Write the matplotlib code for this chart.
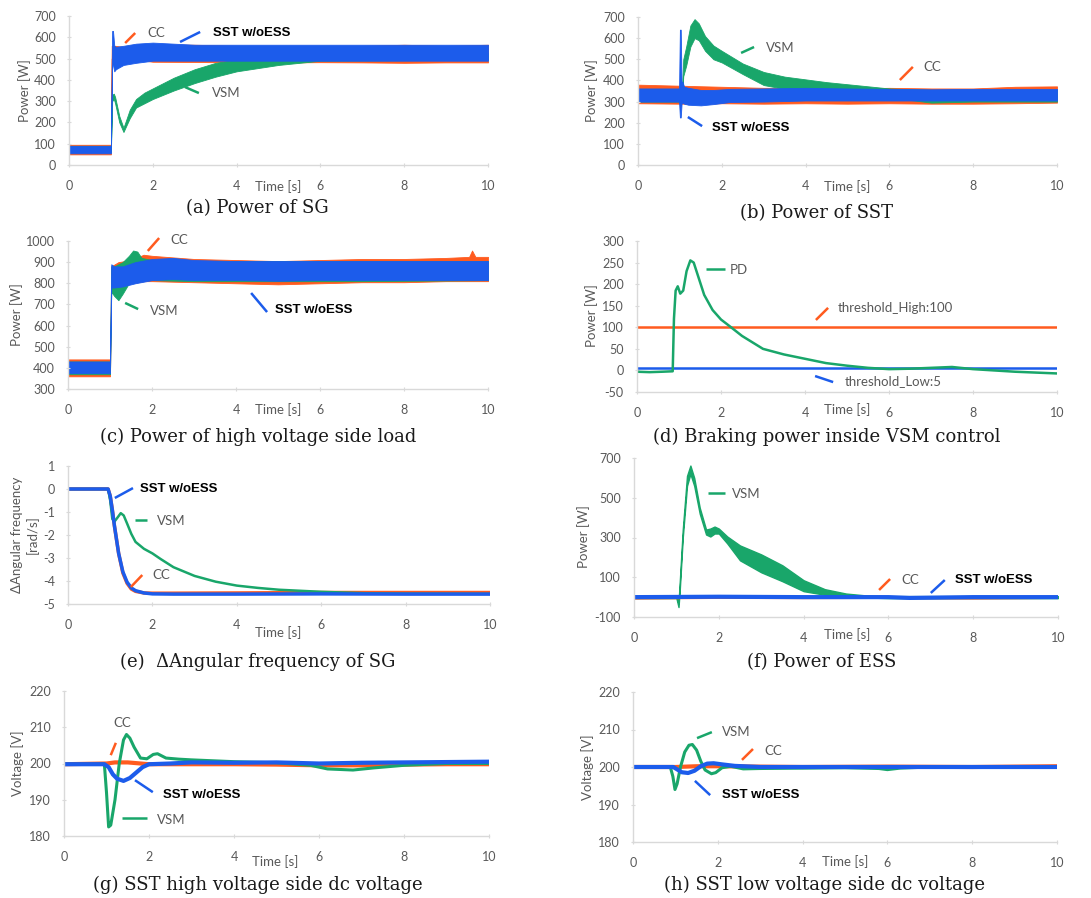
import matplotlib
matplotlib.use("Agg")
import matplotlib.pyplot as plt

plt.rcParams['axes.unicode_minus'] = False

W, H = 1091, 898
ORANGE = '#FF5B1F'
BLUE = '#1C5CEB'
GREEN = '#19A66A'
GRAY = '#595959'
AXC = '#d9d9d9'
TICKF = 'Lato'

# ---------------- data ----------------
xticks = [0, 2, 4, 6, 8, 10]

# (a) Power of SG  (bands: time, low, high)
a_cc_t = [0, 1.0, 1.02, 1.1, 1.3, 1.6, 2, 3, 4, 5, 6, 7, 8, 9, 10]
a_cc_lo = [50, 50, 500, 530, 520, 495, 485, 484, 482, 482, 483, 482, 480, 482, 482]
a_cc_hi = [95, 95, 560, 560, 555, 565, 565, 565, 560, 560, 560, 560, 565, 560, 565]
a_vsm_t = [0, 1.0, 1.03, 1.07, 1.1, 1.2, 1.3, 1.45, 1.6, 1.8, 2.0, 2.5, 3.0, 3.5, 4.0, 4.5, 5.0, 5.5, 6.0, 10]
a_vsm_lo = [60, 60, 300, 310, 290, 200, 155, 220, 270, 290, 310, 350, 385, 415, 440, 455, 470, 480, 490, 495]
a_vsm_hi = [90, 90, 330, 335, 320, 230, 175, 260, 310, 340, 360, 410, 450, 480, 495, 505, 510, 515, 520, 525]
a_sst_t = [0, 1.0, 1.03, 1.05, 1.08, 1.12, 1.3, 1.6, 2, 3, 4, 6, 8, 10]
a_sst_lo = [55, 55, 470, 470, 440, 450, 470, 480, 490, 490, 490, 490, 490, 490]
a_sst_hi = [90, 90, 630, 630, 560, 555, 560, 570, 575, 565, 565, 565, 565, 565]

# (b) Power of SST
b_cc_t = [0, 1, 2, 3, 4, 5, 6, 7, 8, 9, 10]
b_cc_lo = [292, 290, 292, 290, 292, 290, 292, 290, 290, 292, 295]
b_cc_hi = [380, 375, 370, 365, 365, 362, 365, 362, 362, 370, 372]
b_vsm_t = [0, 1.05, 1.08, 1.15, 1.25, 1.35, 1.45, 1.6, 1.8, 2.0, 2.5, 3, 3.5, 4, 4.5, 5, 5.5, 6, 7, 8, 10]
b_vsm_lo = [300, 300, 420, 470, 560, 600, 590, 540, 500, 485, 430, 378, 360, 352, 345, 340, 335, 320, 295, 300, 300]
b_vsm_hi = [360, 360, 500, 560, 660, 690, 670, 610, 565, 540, 480, 440, 418, 405, 392, 382, 372, 362, 355, 355, 355]
b_sst_t = [0, 0.98, 1.0, 1.02, 1.04, 1.06, 1.1, 1.2, 1.5, 1.8, 2.2, 3, 4, 5, 6, 7, 8, 10]
b_sst_lo = [300, 300, 225, 225, 290, 295, 290, 285, 282, 288, 298, 300, 305, 305, 305, 305, 305, 305]
b_sst_hi = [362, 362, 640, 640, 380, 395, 370, 365, 355, 355, 360, 362, 365, 362, 360, 358, 360, 360]

# (c) Power of high voltage side load
c_cc_t = [0, 1.0, 1.03, 1.2, 1.5, 1.8, 2.0, 3, 4, 5, 6, 7, 8, 9, 9.55, 9.62, 9.7, 10]
c_cc_lo = [360, 360, 780, 790, 800, 810, 810, 805, 800, 795, 800, 805, 805, 810, 810, 810, 810, 810]
c_cc_hi = [440, 440, 880, 900, 910, 935, 930, 915, 910, 905, 910, 915, 915, 920, 925, 955, 925, 925]
c_vsm_t = [0, 1.0, 1.03, 1.1, 1.2, 1.3, 1.45, 1.55, 1.65, 1.75, 2.0, 3, 5, 7, 10]
c_vsm_lo = [370, 370, 760, 740, 720, 750, 800, 820, 830, 830, 815, 810, 810, 810, 815]
c_vsm_hi = [430, 430, 880, 880, 890, 900, 930, 955, 950, 920, 910, 905, 905, 905, 905]
c_sst_t = [0, 1.0, 1.03, 1.1, 1.3, 1.6, 2.0, 2.5, 3, 4, 5, 6, 8, 10]
c_sst_lo = [375, 375, 780, 780, 785, 800, 815, 820, 815, 815, 812, 815, 815, 815]
c_sst_hi = [430, 430, 890, 880, 880, 900, 915, 920, 910, 905, 905, 905, 905, 905]

# (d) Braking power inside VSM control
d_pd_t = [0, 0.3, 0.6, 0.85, 0.88, 0.92, 0.97, 1.03, 1.1, 1.18, 1.27, 1.35, 1.45, 1.6, 1.8, 2.0, 2.2,
          2.5, 3.0, 3.5, 4.0, 4.5, 5.0, 5.5, 6.0, 6.5, 7.0, 7.5, 8.0, 8.5, 9.0, 9.5, 10]
d_pd = [-3, -4, -3, -2, 120, 185, 195, 178, 185, 230, 255, 250, 220, 175, 140, 118, 103,
        80, 50, 37, 27, 17, 11, 6, 3, 4, 6, 8, 3, 0, -3, -5, -7]
d_thr_t = [0, 10]
d_thr_high = [100, 100]
d_thr_low = [5, 5]

# (e) Delta angular frequency of SG
e_sst_t = [0, 0.95, 1.0, 1.05, 1.1, 1.2, 1.3, 1.4, 1.5, 1.6, 1.8, 2.0, 2.5, 4, 6, 8, 10]
e_sst = [0, 0, -0.3, -0.9, -1.6, -2.8, -3.6, -4.05, -4.3, -4.42, -4.52, -4.56, -4.57, -4.57, -4.56, -4.57, -4.57]
e_cc = [0, 0, -0.3, -0.9, -1.6, -2.8, -3.65, -4.1, -4.35, -4.45, -4.52, -4.53, -4.53, -4.52, -4.5, -4.5, -4.5]
e_vsm_t = [0, 0.95, 1.0, 1.05, 1.1, 1.17, 1.25, 1.32, 1.4, 1.5, 1.6, 1.8, 2.0, 2.2, 2.5, 3.0, 3.5,
           4.0, 4.5, 5, 6, 7, 8, 10]
e_vsm = [0, 0, -0.5, -1.3, -1.42, -1.25, -1.05, -1.15, -1.5, -1.95, -2.3, -2.6, -2.8, -3.05, -3.4,
         -3.78, -4.03, -4.2, -4.3, -4.38, -4.47, -4.53, -4.55, -4.56]

# (f) Power of ESS
f_vsm_t = [0, 1.0, 1.05, 1.08, 1.15, 1.25, 1.33, 1.42, 1.55, 1.7, 1.8, 1.9, 2.0, 2.2, 2.5, 3.0, 3.5,
           4.0, 4.5, 5.0, 5.5, 6, 10]
f_vsm_lo = [-5, -5, -50, 40, 300, 560, 620, 560, 420, 315, 305, 320, 320, 270, 185, 125, 80, 30, 12, 3, -2, -5, -5]
f_vsm_hi = [5, 5, -30, 80, 340, 610, 662, 600, 450, 340, 345, 355, 345, 305, 260, 215, 160, 85, 40, 18, 8, 5, 5]
f_cc_t = [0, 2, 4, 6, 8, 10]
f_cc = [-8, -5, -6, -5, -8, -5]
f_sst_t = [0, 2, 4, 6, 6.5, 8, 10]
f_sst = [0, 2, 0, 0, -4, 0, 0]

# (g) SST high voltage side dc voltage
g_cc_t = [0, 1, 1.2, 1.5, 1.8, 2, 3, 4, 5, 6, 7, 8, 9, 10]
g_cc = [199.8, 200, 200.3, 200.3, 200, 199.8, 199.8, 199.8, 199.7, 199.5, 199.5, 199.7, 199.8, 199.8]
g_sst_t = [0, 0.95, 1.05, 1.15, 1.25, 1.4, 1.55, 1.7, 1.85, 2.0, 2.5, 3, 4, 5, 6, 7, 8, 9, 10]
g_sst = [199.8, 199.8, 199, 197, 195.8, 195.2, 196, 197.5, 199, 199.8, 200, 200.3, 200.2, 200.3, 200,
         200.2, 200.3, 200.4, 200.5]
g_vsm_t = [0, 0.95, 1.0, 1.05, 1.1, 1.2, 1.3, 1.4, 1.47, 1.55, 1.65, 1.8, 1.95, 2.1, 2.2, 2.4, 2.7,
           3, 4, 5, 5.8, 6.2, 6.8, 7.3, 8, 9, 10]
g_vsm = [199.8, 199.8, 192, 182.5, 183, 190, 200, 206.5, 208, 207, 204.5, 201.5, 201.3, 202.5, 202.7,
         201.5, 201.2, 201, 200.5, 200.2, 199.5, 198.5, 198.2, 198.8, 199.5, 200, 200]

# (h) SST low voltage side dc voltage
h_vsm_t = [0, 0.88, 0.94, 0.99, 1.04, 1.12, 1.22, 1.32, 1.4, 1.5, 1.6, 1.7, 1.85, 1.95, 2.1, 2.3, 2.6,
           3, 4, 5, 5.8, 6.0, 6.3, 7, 8, 10]
h_vsm = [200, 200, 197.5, 194, 195.5, 200, 204, 205.8, 206, 204.5, 201.5, 199.2, 198.2, 198.5, 199.8,
         200.2, 199.5, 199.6, 199.7, 199.8, 199.6, 199.3, 199.7, 200, 200, 200]
h_sst_t = [0, 0.95, 1.05, 1.15, 1.3, 1.45, 1.6, 1.75, 1.9, 2.1, 2.4, 3, 4, 5, 6, 8, 10]
h_sst = [200, 200, 199.3, 198.6, 198.4, 199, 200.2, 200.9, 201, 200.7, 200.3, 200, 200, 200, 200, 200, 200]
h_cc_t = [0, 1, 1.5, 2, 4, 6, 8, 10]
h_cc = [200, 200, 200.2, 200.2, 200, 200.1, 200, 200.2]

# ---------------- figure ----------------
fig = plt.figure(figsize=(W / 100, H / 100), dpi=100)


def px_axes(x0, y0, x1, y1):
    return fig.add_axes([x0 / W, 1 - y1 / H, (x1 - x0) / W, (y1 - y0) / H])


def fig_text(x, y, s, **kw):
    fig.text(x / W, 1 - y / H, s, ha='center', va='center', **kw)


def style(ax, ylim, yticks, ylabel, lab_x, lab_y):
    ax.set_xlim(0, 10)
    ax.set_ylim(*ylim)
    ax.set_xticks(xticks)
    ax.set_yticks(yticks)
    for s in ['top', 'right']:
        ax.spines[s].set_visible(False)
    for s in ['left', 'bottom']:
        ax.spines[s].set_color(AXC)
        ax.spines[s].set_linewidth(1.0)
    ax.tick_params(axis='both', colors=AXC, labelcolor=GRAY, length=3, width=0.8,
                   direction='inout', labelsize=9)
    ax.tick_params(axis='x', pad=9)
    ax.tick_params(axis='y', pad=8)
    for lab in ax.get_xticklabels() + ax.get_yticklabels():
        lab.set_fontfamily(TICKF)
    fig_text(lab_x, lab_y, ylabel, rotation=90, color=GRAY, fontsize=9.5, family=TICKF,
             linespacing=1.3)


def slash(ax, p0, p1, c):
    ax.plot([p0[0], p1[0]], [p0[1], p1[1]], color=c, lw=1.8, clip_on=False, solid_capstyle='butt')


def note(ax, x, y, s, bold=False):
    if bold:
        ax.text(x, y, s, fontsize=9.5, fontweight='bold', color='black', family='Liberation Sans',
                va='center', ha='left')
    else:
        ax.text(x, y, s, fontsize=9.5, color=GRAY, family=TICKF, va='center', ha='left')


def time_label(x, y):
    fig_text(x, y, 'Time [s]', fontsize=9.5, color=GRAY, family=TICKF)


def caption(x, y, s):
    fig_text(x, y, s, fontsize=13, color='#1a1a1a', family='DejaVu Serif')


# (a)
ax = px_axes(69, 16, 488, 165)
ax.fill_between(a_cc_t, a_cc_lo, a_cc_hi, color=ORANGE, lw=0.6, edgecolor=ORANGE)
ax.fill_between(a_vsm_t, a_vsm_lo, a_vsm_hi, color=GREEN, lw=0.6, edgecolor=GREEN)
ax.fill_between(a_sst_t, a_sst_lo, a_sst_hi, color=BLUE, lw=0.6, edgecolor=BLUE)
style(ax, (0, 700), range(0, 701, 100), 'Power [W]', 25, 91)
slash(ax, (1.34, 573), (1.58, 620), ORANGE); note(ax, 1.88, 620, 'CC')
slash(ax, (2.65, 578), (3.13, 625), BLUE); note(ax, 3.44, 620, 'SST w/oESS', bold=True)
slash(ax, (2.77, 366), (3.10, 338), GREEN); note(ax, 3.41, 338, 'VSM')
time_label(278, 187)
caption(257, 208, '(a) Power of SG')

# (b)
ax = px_axes(638, 17, 1057, 165)
ax.fill_between(b_cc_t, b_cc_lo, b_cc_hi, color=ORANGE, lw=0.6, edgecolor=ORANGE)
ax.fill_between(b_vsm_t, b_vsm_lo, b_vsm_hi, color=GREEN, lw=0.6, edgecolor=GREEN)
ax.fill_between(b_sst_t, b_sst_lo, b_sst_hi, color=BLUE, lw=0.6, edgecolor=BLUE)
style(ax, (0, 700), range(0, 701, 100), 'Power [W]', 592, 91)
slash(ax, (2.46, 530), (2.77, 558), GREEN); note(ax, 3.05, 553, 'VSM')
slash(ax, (6.25, 402), (6.56, 464), ORANGE); note(ax, 6.8, 464, 'CC')
slash(ax, (1.19, 227), (1.53, 184), BLUE); note(ax, 1.77, 175, 'SST w/oESS', bold=True)
time_label(847, 187)
caption(817, 213, '(b) Power of SST')

# (c)
ax = px_axes(68, 241, 488, 389)
ax.fill_between(c_cc_t, c_cc_lo, c_cc_hi, color=ORANGE, lw=0.6, edgecolor=ORANGE)
ax.fill_between(c_vsm_t, c_vsm_lo, c_vsm_hi, color=GREEN, lw=0.6, edgecolor=GREEN)
ax.fill_between(c_sst_t, c_sst_lo, c_sst_hi, color=BLUE, lw=0.6, edgecolor=BLUE)
style(ax, (300, 1000), range(300, 1001, 100), 'Power [W]', 17, 315)
slash(ax, (1.90, 953), (2.17, 1014), ORANGE); note(ax, 2.43, 1005, 'CC')
slash(ax, (1.36, 707), (1.67, 678), GREEN); note(ax, 1.95, 669, 'VSM')
slash(ax, (4.36, 754), (4.74, 664), BLUE); note(ax, 4.93, 674, 'SST w/oESS', bold=True)
time_label(278, 410)
caption(258, 437, '(c) Power of high voltage side load')

# (d)
ax = px_axes(637, 241, 1057, 392)
ax.plot(d_thr_t, d_thr_high, color=ORANGE, lw=1.8)
ax.plot(d_thr_t, d_thr_low, color=BLUE, lw=1.8)
ax.plot(d_pd_t, d_pd, color=GREEN, lw=1.8)
style(ax, (-50, 300), range(-50, 301, 50), 'Power [W]', 592, 316)
slash(ax, (1.64, 235), (2.10, 235), GREEN); note(ax, 2.21, 233, 'PD')
slash(ax, (4.26, 117), (4.55, 145), ORANGE); note(ax, 4.79, 145, 'threshold_High:100')
slash(ax, (4.24, -13), (4.67, -27), BLUE); note(ax, 4.95, -24.5, 'threshold_Low:5')
time_label(847, 410)
caption(827, 437, '(d) Braking power inside VSM control')

# (e)
ax = px_axes(68, 466, 490, 604)
ax.plot(e_sst_t, e_cc, color=ORANGE, lw=2.5)
ax.plot(e_vsm_t, e_vsm, color=GREEN, lw=1.8)
ax.plot(e_sst_t, e_sst, color=BLUE, lw=2.5)
style(ax, (-5, 1), range(-5, 2, 1), '\u0394Angular frequency\n[rad/s]', 25, 535)
slash(ax, (1.11, -0.39), (1.54, 0.04), BLUE); note(ax, 1.71, 0.0, 'SST w/oESS', bold=True)
slash(ax, (1.59, -1.35), (1.87, -1.35), GREEN); note(ax, 2.11, -1.39, 'VSM')
slash(ax, (1.49, -4.26), (1.76, -3.74), ORANGE); note(ax, 2.01, -3.74, 'CC')
time_label(278, 633)
caption(258, 662, '(e)  \u0394Angular frequency of SG')

# (f)
ax = px_axes(634, 458, 1058, 617)
ax.fill_between(f_vsm_t, f_vsm_lo, f_vsm_hi, color=GREEN, lw=1.0, edgecolor=GREEN)
ax.plot(f_cc_t, f_cc, color=ORANGE, lw=1.2)
ax.plot(f_sst_t, f_sst, color=BLUE, lw=3.0)
style(ax, (-100, 700), [-100, 100, 300, 500, 700], 'Power [W]', 584, 537)
slash(ax, (1.75, 524), (2.15, 524), GREEN); note(ax, 2.31, 519, 'VSM')
slash(ax, (5.78, 36), (6.04, 91), ORANGE); note(ax, 6.30, 86, 'CC')
slash(ax, (7.0, 21), (7.33, 86), BLUE); note(ax, 7.57, 86, 'SST w/oESS', bold=True)
time_label(847, 635)
caption(822, 662, '(f) Power of ESS')

# (g)
ax = px_axes(64, 691, 489, 836)
ax.plot(g_cc_t, g_cc, color=ORANGE, lw=3.0)
ax.plot(g_vsm_t, g_vsm, color=GREEN, lw=2.2)
ax.plot(g_sst_t, g_sst, color=BLUE, lw=3.0)
style(ax, (180, 220), range(180, 221, 10), 'Voltage [V]', 18, 763)
slash(ax, (1.10, 202.3), (1.22, 205.7), ORANGE); note(ax, 1.15, 211.2, 'CC')
slash(ax, (1.67, 195.4), (2.09, 192.1), BLUE); note(ax, 2.33, 191.3, 'SST w/oESS', bold=True)
slash(ax, (1.36, 185), (1.95, 185), GREEN); note(ax, 2.19, 184.4, 'VSM')
time_label(275, 862)
caption(258, 885, '(g) SST high voltage side dc voltage')

# (h)
ax = px_axes(633, 692, 1057, 842)
ax.plot(h_cc_t, h_cc, color=ORANGE, lw=3.0)
ax.plot(h_vsm_t, h_vsm, color=GREEN, lw=2.2)
ax.plot(h_sst_t, h_sst, color=BLUE, lw=3.0)
style(ax, (180, 220), range(180, 221, 10), 'Voltage [V]', 588, 767)
slash(ax, (1.51, 207.7), (1.86, 209.3), GREEN); note(ax, 2.1, 209.3, 'VSM')
slash(ax, (2.57, 201.9), (2.83, 204.8), ORANGE); note(ax, 3.11, 204.3, 'CC')
slash(ax, (1.46, 196.3), (1.82, 192.5), BLUE); note(ax, 2.1, 192.5, 'SST w/oESS', bold=True)
time_label(845, 862)
caption(825, 885, '(h) SST low voltage side dc voltage')

fig.savefig('out.png', dpi=100)
